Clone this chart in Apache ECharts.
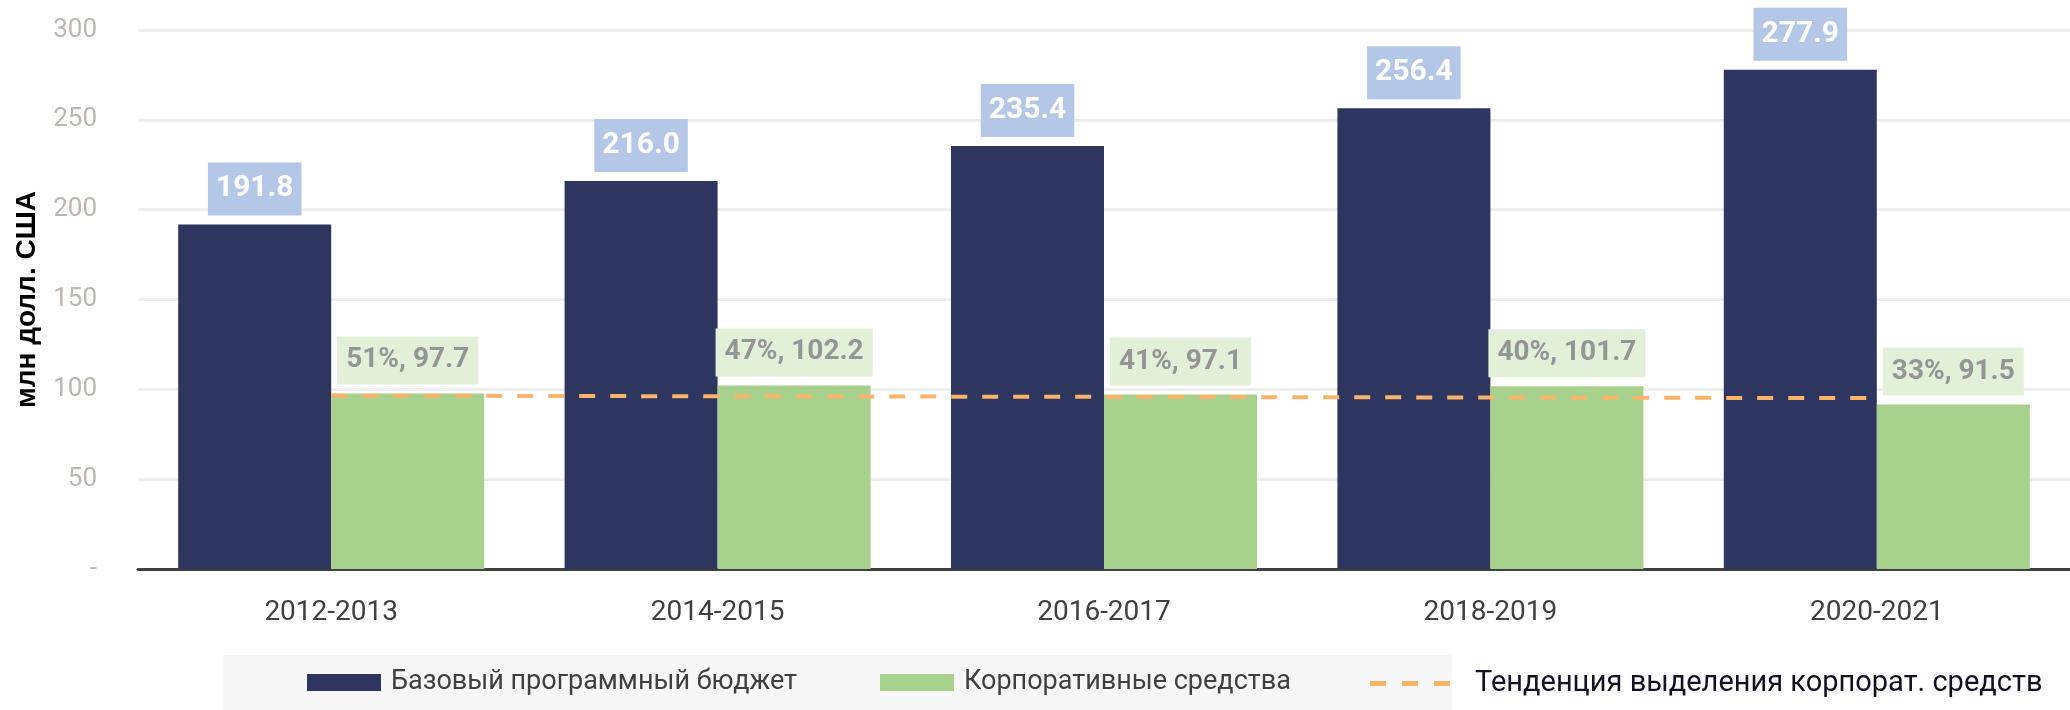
<!DOCTYPE html>
<html>
<head>
<meta charset="utf-8">
<script src="https://cdn.jsdelivr.net/npm/echarts@6.0.0/dist/echarts.min.js"></script>
<style>
  html, body { margin: 0; padding: 0; background: #fff; }
  #chart { width: 2070px; height: 710px; }
</style>
</head>
<body>
<div id="chart"></div>
<script>
// data
const periods = ['2012-2013', '2014-2015', '2016-2017', '2018-2019', '2020-2021'];
const baseBudget = [191.8, 216.0, 235.4, 256.4, 277.9];
const corporate = [97.7, 102.2, 97.1, 101.7, 91.5];
const corporateShare = [51, 47, 41, 40, 33];
// trend line: only its two ends are read, the rest is joined straight
const trend = [96.5, null, null, null, 95.1];
const yTicks = [0, 50, 100, 150, 200, 250, 300];

const seriesNames = ['Базовый программный бюджет', 'Корпоративные средства', 'Тенденция выделения корпорат. средств'];

const font = "Roboto, 'Liberation Sans', sans-serif";
const navy = '#2e3660';
const green = '#a9d18e';
const orange = '#f8b46a';

let chart = echarts.init(document.getElementById('chart'));

function legendItem(name, left, extra) {
  return Object.assign({
    data: [name],
    left: left,
    top: 669,
    padding: 0,
    icon: 'rect',
    itemWidth: 74,
    itemHeight: 17,
    selectedMode: false,
    textStyle: {
      fontFamily: font,
      fontSize: 27,
      color: '#404040',
      padding: [0, 0, 0, 5]
    }
  }, extra || {});
}

chart.setOption({
  animation: false,
  grid: {
    left: 138,
    right: -12,
    top: 30,
    bottom: 141
  },
  graphic: [
    {
      type: 'rect',
      z: -1,
      shape: { x: 223, y: 655, width: 1229, height: 55 },
      style: { fill: '#f7f7f7' }
    }
  ],
  legend: [
    legendItem(seriesNames[0], 307),
    legendItem(seriesNames[1], 880),
    legendItem(seriesNames[2], 1370, {
      itemWidth: 80,
      itemHeight: 5,
      icon: 'path://M0,0h16v5h-16z M32,0h16v5h-16z M64,0h16v5h-16z',
      textStyle: {
        fontFamily: font,
        fontSize: 29,
        color: '#111122',
        padding: [0, 0, 0, 20]
      }
    })
  ],
  xAxis: {
    type: 'category',
    data: periods,
    axisTick: { show: false },
    axisLine: { lineStyle: { color: '#404040', width: 3 } },
    axisLabel: {
      margin: 30,
      fontFamily: font,
      fontSize: 28,
      color: '#404040'
    }
  },
  yAxis: {
    type: 'value',
    min: 0,
    max: 300,
    interval: 50,
    name: 'млн долл. США',
    nameLocation: 'middle',
    nameRotate: 90,
    nameGap: 97,
    nameMoveOverlap: false,
    nameTextStyle: {
      fontFamily: "'Liberation Sans', Arial, sans-serif",
      fontWeight: 'bold',
      fontSize: 28,
      color: '#000'
    },
    axisLine: { show: false },
    axisTick: { show: false },
    splitLine: { lineStyle: { color: '#efefef', width: 3 } },
    axisLabel: {
      margin: 41,
      fontFamily: font,
      fontSize: 26,
      color: '#bcb7b2',
      formatter: v => (yTicks.indexOf(v) === 0 ? '-' : String(v))
    }
  },
  series: [
    {
      name: seriesNames[0],
      type: 'bar',
      data: baseBudget,
      barGap: '0%',
      barCategoryGap: '20.8%',
      itemStyle: { color: navy },
      label: {
        show: true,
        position: 'top',
        distance: 9,
        formatter: p => p.value.toFixed(1),
        fontFamily: font,
        fontWeight: 'bold',
        fontSize: 30,
        lineHeight: 31,
        color: '#fff',
        backgroundColor: '#b4c7e7',
        padding: [11, 8]
      }
    },
    {
      name: seriesNames[1],
      type: 'bar',
      data: corporate,
      itemStyle: { color: green },
      label: {
        show: true,
        position: 'top',
        distance: 9,
        formatter: p => corporateShare[p.dataIndex] + '%, ' + p.value.toFixed(1),
        fontFamily: font,
        fontWeight: 'bold',
        fontSize: 28,
        lineHeight: 28,
        color: '#959595',
        backgroundColor: '#e2efd9',
        padding: [10, 9]
      }
    },
    {
      name: seriesNames[2],
      type: 'line',
      data: trend,
      connectNulls: true,
      symbol: 'none',
      z: 5,
      itemStyle: { color: orange },
      lineStyle: { color: orange, width: 4, type: [16, 15] }
    }
  ]
});
</script>
</body>
</html>
